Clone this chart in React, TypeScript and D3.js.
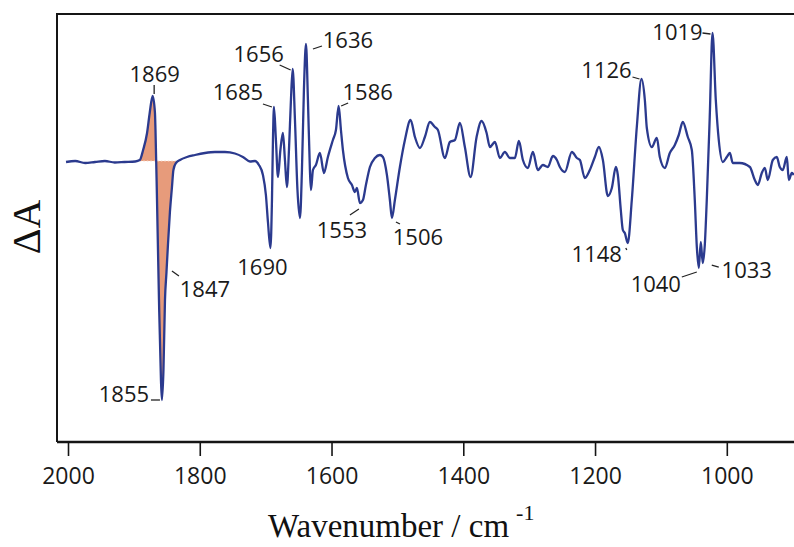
import React, { useEffect, useRef } from 'react';
import * as d3 from 'd3';

// difference spectrum (wavenumber cm-1, delta A arbitrary units)
const wavenumbers = [
  2003, 1989, 1974, 1959, 1944, 1929, 1914, 1898, 1891, 1886, 1880, 1876, 1871.5, 1868, 1867.2,
  1864.9, 1861.9, 1858.9, 1857.4, 1855.1, 1852.8, 1850.5, 1848.3, 1845.3, 1842.3, 1840, 1836.1,
  1830, 1819.4, 1807.3, 1792.1, 1776.9, 1761.8, 1746.6, 1734.5, 1723.8, 1716.2, 1710.2, 1704.1,
  1699.6, 1696.5, 1692.7, 1690.4, 1688.9, 1687.4, 1684.4, 1681.3, 1677.6, 1673.8, 1670.7, 1667.7,
  1664.6, 1661.6, 1659, 1655.5, 1651.7, 1647.9, 1644.9, 1641.9, 1638.8, 1635.8, 1632.8, 1631.2,
  1628.2, 1623.7, 1617.6, 1611.5, 1605.5, 1597.9, 1593.3, 1589.2, 1585.7, 1582.7, 1575.1, 1569,
  1564.5, 1561.5, 1556.9, 1552.3, 1547.8, 1541.7, 1534.1, 1526.5, 1522, 1515.9, 1511.4, 1508.3,
  1503.8, 1496.2, 1488.6, 1480, 1473.4, 1465.8, 1458.3, 1450.7, 1443.1, 1438.5, 1427.9, 1420.3,
  1412.7, 1405.1, 1397.6, 1388.9, 1379.8, 1372.2, 1364.6, 1359.6, 1352, 1344.4, 1336.9, 1329.3,
  1321.7, 1315.6, 1309.5, 1301.9, 1294.4, 1286.8, 1279.2, 1271.6, 1264, 1257.9, 1253.4, 1245.8,
  1235.2, 1227.6, 1223, 1215.5, 1207.9, 1200.3, 1194.2, 1188.1, 1180.6, 1174.5, 1168.4, 1165.4,
  1160.9, 1157.8, 1154.8, 1150.3, 1144.2, 1136.6, 1129.5, 1124.4, 1121.4, 1113.8, 1106.2, 1101.7,
  1094.1, 1086.5, 1078.9, 1072.9, 1066.8, 1059.2, 1053.1, 1048.6, 1045.5, 1042.5, 1039.5, 1036.5,
  1033.4, 1030.4, 1025.9, 1021.7, 1016.7, 1012.2, 1006.1, 1000, 995.4, 990.9, 980.3, 965, 957.5,
  952.9, 946.9, 942.3, 937.8, 930.2, 924.1, 919.6, 915, 908.9, 905.9, 901.3, 898.3,
];
const deltaA = [
  -0.01, 0, -0.02, -0.01, 0, -0.015, -0.01, -0.005, 0.01, 0.11, 0.28, 0.48, 0.65, 0.48, 0.31,
  -0.39, -1.39, -2.19, -2.39, -2.09, -1.39, -1.11, -0.84, -0.51, -0.27, -0.09, -0.02,
  0.01, 0.04, 0.06, 0.08, 0.09, 0.09, 0.075, 0.04, -0.005, 0, -0.04, -0.14,
  -0.34, -0.61, -0.87, -0.39, 0.21, 0.54, 0.21, -0.16, 0.11, 0.28, 0.01, -0.26,
  0.11, 0.61, 0.92, 0.41, -0.29, -0.57, -0.09, 0.71, 1.17, 0.61, -0.09, -0.29,
  -0.09, -0.04, 0.08, -0.12, 0.04, 0.21, 0.31, 0.55, 0.31, 0.11, -0.17, -0.24,
  -0.31, -0.27, -0.42, -0.39, -0.24, -0.06, 0.03, 0.06, 0.04, -0.14, -0.39, -0.57,
  -0.39, -0.06, 0.21, 0.41, 0.24, 0.13, 0.24, 0.39, 0.34, 0.31, 0.03, 0.19,
  0.21, 0.38, 0.14, -0.16, 0.24, 0.4, 0.28, 0.14, 0.19, 0.03, 0.09, 0.03,
  0.03, 0.2, 0.01, -0.07, 0.09, -0.09, -0.04, -0.06, 0.05, 0.01, -0.06, -0.11,
  0.09, 0.03, 0.01, -0.17, -0.09, 0.04, 0.14, 0.01, -0.35, -0.27, -0.06, -0.14,
  -0.49, -0.69, -0.72, -0.82, -0.39, 0.34, 0.82, 0.61, 0.33, 0.14, 0.23, 0.04,
  -0.07, 0.08, 0.16, 0.26, 0.39, 0.24, 0.11, -0.39, -0.86, -1.07, -0.81, -1.02,
  -0.84, -0.39, 0.44, 1.28, 0.61, 0.21, -0.01, 0.04, 0.08, -0.02, -0.02, -0.06, -0.19,
  -0.24, -0.12, -0.07, -0.19, 0.01, 0.04, -0.06, -0.09, 0.04, -0.19, -0.12, -0.14,
];

const xTicks = [2000, 1800, 1600, 1400, 1200, 1000];
const shadedRange = [1891, 1836]; // the C=O band that is filled

// peak labels and whether the mark is a max, min or just nearest point
const peakLabels = [1869, 1685, 1656, 1636, 1586, 1690, 1847, 1855, 1553, 1506, 1148, 1126, 1019, 1040, 1033];
const peakKinds = ['max', 'max', 'max', 'max', 'max', 'min', 'near', 'min', 'min', 'min', 'min', 'max', 'max', 'min', 'min'];

// label layout: text offset and leader line, relative to the peak point (px)
const labelLayout: Record<number, { dx: number; dy: number; lead?: number[] }> = {
  1869: { dx: 2, dy: -14, lead: [1.5, -11, 1.5, -2] },
  1685: { dx: -36, dy: -7, lead: [-11, -3, -2, 0] },
  1656: { dx: -34, dy: -7, lead: [-13, -4, -2, 1] },
  1636: { dx: 42, dy: 4, lead: [7, 5, 16, 2] },
  1586: { dx: 29, dy: -6, lead: [2.5, 0, 9.5, -3] },
  1690: { dx: -8, dy: 27 },
  1847: { dx: 37, dy: 52, lead: [4, 26, 11, 31] },
  1855: { dx: -38, dy: 2, lead: [-11, 0, -2, 0] },
  1553: { dx: -18, dy: 35, lead: [-10, 12, -1, 6] },
  1506: { dx: 26, dy: 27, lead: [4, 4, 8, 6] },
  1148: { dx: -31, dy: 19, lead: [-2, 5, -1, 7] },
  1126: { dx: -35, dy: -1, lead: [-9, -2, -2, 0] },
  1019: { dx: -35, dy: 7, lead: [-10, 0, -2, 1] },
  1040: { dx: -43, dy: 24, lead: [-17, 9, -2, 4] },
  1033: { dx: 44, dy: 15, lead: [9, 2, 16, 4] },
};

const W = 794, H = 547;
const plot = { left: 57, right: 794, top: 14, bottom: 442 };
const lineColor = '#2b3a8e';
const fillColor = '#e79b7b';
const sans = '"Open Sans", "Liberation Sans", sans-serif';
const serif = '"Liberation Serif", "Times New Roman", serif';

function Spectrum() {
  const ref = useRef<SVGSVGElement>(null);

  useEffect(() => {
    const svg = d3.select(ref.current);
    svg.selectAll('*').remove();

    const data = wavenumbers.map((w, i) => ({ w, v: deltaA[i] }));

    const x = d3.scaleLinear().domain([2016.7, 898]).range([plot.left, plot.right]);
    const y = d3.scaleLinear().domain([-2.81, 1.47]).range([plot.bottom, plot.top]);

    svg.append('rect').attr('width', W).attr('height', H).attr('fill', '#fff');

    // shaded band
    const band = data.filter(d => d.w <= shadedRange[0] && d.w >= shadedRange[1]);
    svg.append('path')
      .datum(band)
      .attr('fill', fillColor)
      .attr('d', d3.area<{ w: number; v: number }>()
        .x(d => x(d.w))
        .y0(y(0))
        .y1(d => y(d.v))
        .curve(d3.curveMonotoneX));
    svg.append('line')
      .attr('x1', x(shadedRange[0])).attr('x2', x(shadedRange[1]))
      .attr('y1', y(0)).attr('y2', y(0))
      .attr('stroke', '#f7d8c8').attr('stroke-width', 1)
      .attr('stroke-dasharray', '1.5 2');

    // spectrum
    svg.append('path')
      .datum(data)
      .attr('fill', 'none')
      .attr('stroke', lineColor)
      .attr('stroke-width', 2.3)
      .attr('stroke-linejoin', 'round')
      .attr('d', d3.line<{ w: number; v: number }>()
        .x(d => x(d.w))
        .y(d => y(d.v))
        .curve(d3.curveMonotoneX));

    // frame: top and left edge
    svg.append('line')
      .attr('x1', plot.left).attr('x2', plot.right)
      .attr('y1', plot.top).attr('y2', plot.top)
      .attr('stroke', '#151515').attr('stroke-width', 2);
    svg.append('line')
      .attr('x1', plot.left).attr('x2', plot.left)
      .attr('y1', plot.top - 1).attr('y2', plot.bottom)
      .attr('stroke', '#151515').attr('stroke-width', 2);

    // bottom axis
    const xAxis = d3.axisBottom(x)
      .tickValues(xTicks)
      .tickFormat(d3.format('d'))
      .tickSize(14)
      .tickSizeOuter(0)
      .tickPadding(12);
    const gx = svg.append('g')
      .attr('transform', 'translate(0,' + plot.bottom + ')')
      .call(xAxis);
    gx.select('.domain').attr('stroke', '#151515').attr('stroke-width', 2.4)
      .attr('d', 'M' + plot.left + ',0H' + plot.right);
    gx.selectAll('.tick line').attr('stroke', '#151515').attr('stroke-width', 1.6);
    gx.selectAll('.tick text')
      .attr('fill', '#1a1a1a')
      .style('font-family', sans)
      .style('font-size', '23px');

    // axis titles
    svg.append('text')
      .attr('transform', 'translate(40,227) rotate(-90)')
      .attr('text-anchor', 'middle')
      .style('font-family', serif)
      .style('font-size', '40px')
      .attr('fill', '#111')
      .text('ΔA');

    const xt = svg.append('text')
      .attr('x', 268).attr('y', 537)
      .style('font-family', serif)
      .style('font-size', '33px')
      .attr('fill', '#111');
    xt.append('tspan').text('Wavenumber / cm');
    xt.append('tspan').attr('dx', 7).attr('dy', -17).style('font-size', '22px').text('-1');

    // peak labels
    peakLabels.forEach((label, i) => {
      const kind = peakKinds[i];
      let p: { w: number; v: number };
      if (kind === 'near') {
        p = data.reduce((a, b) => (Math.abs(b.w - label) < Math.abs(a.w - label) ? b : a));
      } else {
        const win = data.filter(d => Math.abs(d.w - label) <= 6);
        p = win.reduce((a, b) => (kind === 'max' ? (b.v > a.v ? b : a) : (b.v < a.v ? b : a)));
      }
      const px = x(p.w), py = y(p.v);
      const lay = labelLayout[label];
      if (lay.lead) {
        svg.append('line')
          .attr('x1', px + lay.lead[0]).attr('y1', py + lay.lead[1])
          .attr('x2', px + lay.lead[2]).attr('y2', py + lay.lead[3])
          .attr('stroke', '#222').attr('stroke-width', 1.3);
      }
      svg.append('text')
        .attr('x', px + lay.dx).attr('y', py + lay.dy)
        .attr('text-anchor', 'middle')
        .style('font-family', sans)
        .style('font-size', '22px')
        .attr('fill', '#1a1a1a')
        .text(String(label));
    });
  }, []);

  return <svg ref={ref} width={W} height={H} style={{ position: 'absolute', left: 0, top: 0, display: 'block' }} />;
}

export default function App() {
  return <Spectrum />;
}
